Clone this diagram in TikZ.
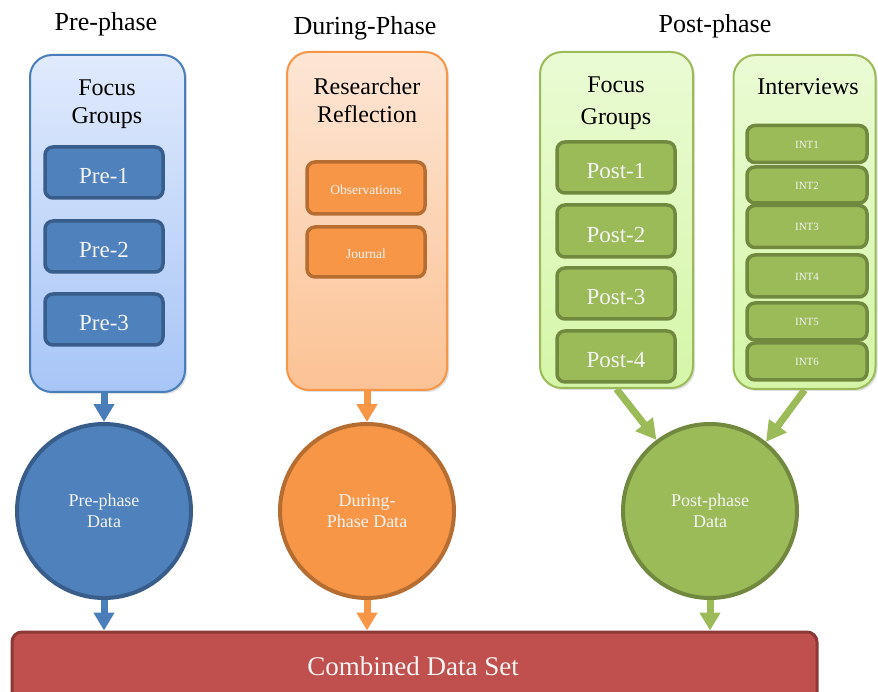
\documentclass[tikz,border=0pt]{standalone}
\usepackage{fontspec}
\setmainfont{Liberation Serif}
\usetikzlibrary{arrows.meta,shadows}

\definecolor{bluefill}{HTML}{4F81BD}
\definecolor{blueedge}{HTML}{385D8A}
\definecolor{blueline}{HTML}{4A7EBB}
\definecolor{bluearrow}{HTML}{4A7EBB}
\definecolor{bluetop}{HTML}{E0EAFC}
\definecolor{bluebot}{HTML}{A7C5F6}
\definecolor{orangefill}{HTML}{F79646}
\definecolor{orangeedge}{HTML}{B66D31}
\definecolor{orangeline}{HTML}{F79646}
\definecolor{orangetop}{HTML}{FDE6D5}
\definecolor{orangebot}{HTML}{FBC294}
\definecolor{greenfill}{HTML}{9BBB59}
\definecolor{greenedge}{HTML}{71893F}
\definecolor{greenline}{HTML}{9BBB59}
\definecolor{greentop}{HTML}{EAFBD4}
\definecolor{greenbot}{HTML}{D5F6A8}
\definecolor{redfill}{HTML}{C0504D}
\definecolor{rededge}{HTML}{8C3836}
\definecolor{lighttext}{HTML}{F4F4F4}

\tikzset{
  phasetitle/.style={font=\fontsize{26}{30}\selectfont, anchor=base},
  panel/.style={rounded corners=22pt, line width=2pt, draw=#1line,
    top color=#1top, bottom color=#1bot, minimum width=150pt,
    drop shadow={opacity=0.25, shadow xshift=2pt, shadow yshift=-2pt}},
  paneltitle/.style={font=\fontsize{24}{28}\selectfont, align=center, anchor=north},
  item/.style={rounded corners=8pt, line width=3.5pt, draw=#1edge, fill=#1fill,
    minimum width=118pt, text=lighttext, font=\fontsize{23}{26}\selectfont,
    text height=23pt, text depth=0pt},
  smallitem/.style={item=#1, font=\fontsize{13.5}{16}\selectfont, text height=13pt},
  intitem/.style={item=#1, minimum width=120pt, font=\fontsize{11}{13}\selectfont,
    text height=9pt},
  datacirc/.style={circle, line width=4pt, draw=#1edge, fill=#1fill,
    minimum size=174pt, inner sep=0pt, align=center, text=lighttext,
    font=\fontsize{18}{21}\selectfont},
  flow/.style={line width=7pt, draw=#1, -{Triangle[width=20pt,length=18pt]}},
  slantflow/.style={line width=7pt, draw=#1, -{Triangle[width=21pt,length=20pt]}},
}

\begin{document}
\begin{tikzpicture}[x=1pt,y=-1pt]
\clip (0,0) rectangle (878,692);
\fill[white] (0,0) rectangle (878,692);

% phase headings
\node[phasetitle] (tpre)  at (106,31) {Pre-phase};
\node[phasetitle] (tdur)  at (365,35) {During-Phase};
\node[phasetitle] (tpost) at (715,33) {Post-phase};

% pre-phase panel
\node[panel=blue, minimum width=155pt, minimum height=337pt] (prebox) at (107.5,223.5) {};
\node[paneltitle] (pretitle) at (107,76) {Focus\\Groups};
\node[item=blue, minimum height=51pt] (pre1) at (104,172.5) {Pre-1};
\node[item=blue, minimum height=51pt] (pre2) at (104,246.5) {Pre-2};
\node[item=blue, minimum height=51pt] (pre3) at (104,319.5) {Pre-3};

% during-phase panel
\node[panel=orange, minimum width=160pt, minimum height=338pt] (durbox) at (367,221) {};
\node[paneltitle] (durtitle) at (367,74) {Researcher\\Reflection};
\node[smallitem=orange, minimum height=52pt] (obs) at (366,188) {Observations};
\node[smallitem=orange, minimum height=50pt] (jour) at (366,252) {Journal};

% post-phase panels
\node[panel=green, minimum width=153pt, minimum height=336pt] (postbox) at (616.5,220) {};
\node[paneltitle] (posttitle) at (616,73) {Focus\\[4pt]Groups};
\node[item=green, minimum height=51pt] (post1) at (616,167.5) {Post-1};
\node[item=green, minimum height=52pt] (post2) at (616,231) {Post-2};
\node[item=green, minimum height=51pt] (post3) at (616,293.5) {Post-3};
\node[item=green, minimum height=51pt] (post4) at (616,356.5) {Post-4};

\node[panel=green, minimum width=142pt, minimum height=334pt] (intbox) at (804.5,222) {};
\node[paneltitle] (inttitle) at (808,75) {Interviews};
\node[intitem=green, minimum height=37pt] (int1) at (807,144) {INT1};
\node[intitem=green, minimum height=36pt] (int2) at (807,185) {INT2};
\node[intitem=green, minimum height=42pt] (int3) at (807,226.5) {INT3};
\node[intitem=green, minimum height=42pt] (int4) at (807,276) {INT4};
\node[intitem=green, minimum height=37pt] (int5) at (807,321.5) {INT5};
\node[intitem=green, minimum height=37pt] (int6) at (807,361.5) {INT6};

% collected data
\node[datacirc=blue]   (precirc)  at (104,511) {Pre-phase\\Data};
\node[datacirc=orange] (durcirc)  at (367,511) {During-\\Phase Data};
\node[datacirc=green]  (postcirc) at (710,511) {Post-phase\\Data};

% combined result
\node[rounded corners=10pt, line width=3pt, draw=rededge, fill=redfill,
      minimum width=805pt, minimum height=74pt] (combined) at (414.5,669) {};
\node[text=lighttext, font=\fontsize{27}{30}\selectfont] (combinedlabel) at (413,666) {Combined Data Set};

% flows into the data circles
\draw[flow=bluearrow] (precirc.north |- prebox.south) -- (precirc.north);
\draw[flow=orangefill] (durbox.south) -- (durcirc.north);
\draw[slantflow=greenfill] (postbox.south) -- (postcirc.127);
\draw[slantflow=greenfill] (intbox.south) -- (postcirc.51);

% flows into the combined set
\draw[flow=bluearrow] (precirc.south) -- (precirc.south |- combined.north);
\draw[flow=orangefill] (durcirc.south) -- (durcirc.south |- combined.north);
\draw[flow=greenfill] (postcirc.south) -- (postcirc.south |- combined.north);
\end{tikzpicture}
\end{document}
